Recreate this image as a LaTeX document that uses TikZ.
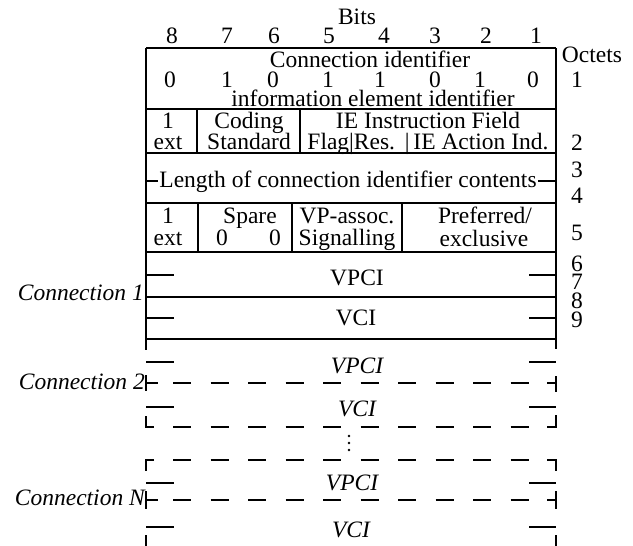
\documentclass[tikz,border=0pt]{standalone}
\usepackage{fontspec}
\setmainfont{Liberation Serif}
\newcommand\fsz{\fontsize{23.5}{20}\selectfont}
\begin{document}
\begin{tikzpicture}[x=1pt,y=-1pt,
  tx/.style={inner sep=0pt,anchor=base,font=\fsz},
  it/.style={inner sep=0pt,anchor=base,font=\fsz\itshape},
  ln/.style={line width=1.5pt},
  dl/.style={line width=1.5pt,dash pattern=on 18pt off 19.5pt}]
\useasboundingbox (0,0) rectangle (633,546);

% header
\node[tx] (bits) at (357,24) {Bits};
\foreach \b/\x in {8/172,7/227,6/274,5/329,4/384,3/435,2/486,1/536}
  \node[tx] (b\b) at (\x,43) {\b};
\node[tx] (oct) at (592,62) {Octets};
\foreach \o/\y in {1/87,2/150,3/177,4/203,5/240,6/271,7/289.5,8/308,9/327}
  \node[tx] (o\o) at (577,\y) {\o};

% frame
\foreach \y in {48,109,153,203,252,297,339}
  \draw[ln] (146,\y) -- (556,\y);
\draw[ln] (146,48) -- (146,350);
\draw[ln] (556,48) -- (556,349);
\draw[ln] (197,109) -- (197,153);
\draw[ln] (300,109) -- (300,153);
\draw[ln] (198,203) -- (198,252);
\draw[ln] (292,203) -- (292,252);
\draw[ln] (402,203) -- (402,252);

% octet 1
\node[tx] (cid) at (370,67) {Connection identifier};
\foreach \i/\v/\x in {1/0/170,2/1/227,3/0/273,4/1/328,5/1/380,6/0/435,7/1/480,8/0/533}
  \node[tx] (d\i) at (\x,87) {\v};
\node[tx] (iei) at (373,106.5) {information element identifier};

% octet 2
\node[tx] (r2a) at (168,128) {1};
\node[tx] (r2b) at (168,149) {ext};
\node[tx] (cod) at (249,128) {Coding};
\node[tx] (std) at (249,149) {Standard};
\node[tx] (ief) at (428,128) {IE Instruction Field};
\node[tx] (fra) at (428,149) {Flag|Res.\ \,|\,IE Action Ind.};

% octets 3-4
\node[tx] (len) at (348,187) {Length of connection identifier contents};
\draw[ln] (146,181) -- (158,181);
\draw[ln] (538,181) -- (556,181);

% octet 5
\node[tx] (r5a) at (168,223) {1};
\node[tx] (r5b) at (168,245.5) {ext};
\node[tx] (spr) at (250,223) {Spare};
\node[tx] (z1) at (222,245.5) {0};
\node[tx] (z2) at (275,245.5) {0};
\node[tx] (vpa) at (347,223) {VP-assoc.};
\node[tx] (sig) at (347,245.5) {Signalling};
\node[tx] (pre) at (485,223) {Preferred/};
\node[tx] (exc) at (484,246) {exclusive};

% connection 1
\node[tx] (vpci1) at (357,285) {VPCI};
\node[tx] (vci1) at (356,325) {VCI};
\node[it,anchor=base east] (c1) at (144,300) {Connection 1};

% connection 2 and N
\node[it] (vpci2) at (357,373) {VPCI};
\node[it] (vci2) at (357,416) {VCI};
\node[it] (vpciN) at (352,490) {VPCI};
\node[it] (vciN) at (351,537) {VCI};
\node[it,anchor=base east] (c2) at (145,389) {Connection 2};
\node[it,anchor=base east] (cN) at (145,505) {Connection N};

% ticks
\foreach \y in {275,318,362,407,483,527} {
  \draw[ln] (146,\y) -- (174,\y);
  \draw[ln] (529,\y) -- (556,\y);
}

% dashed lines
\foreach \y in {383,427,460,500}
  \draw[dl] (173,\y) -- (529,\y);
\draw[ln] (146,375) -- (146,391);
\draw[ln] (146,383) -- (158,383);
\draw[ln] (556,376) -- (556,392);
\draw[ln] (547,383) -- (556,383);
\draw[ln] (146,416) -- (146,427) -- (154,427);
\draw[ln] (556,415) -- (556,427) -- (547,427);
\draw[ln] (154,460) -- (146,460) -- (146,471);
\draw[ln] (547,460) -- (556,460) -- (556,471);
\draw[ln] (146,491) -- (146,509);
\draw[ln] (146,500) -- (158,500);
\draw[ln] (556,491) -- (556,509);
\draw[ln] (547,500) -- (556,500);
\draw[ln] (146,535) -- (146,546);
\draw[ln] (556,535) -- (556,546);

% dots
\foreach \y in {436,443,450}
  \fill (349,\y) circle (1.3);
\end{tikzpicture}
\end{document}
